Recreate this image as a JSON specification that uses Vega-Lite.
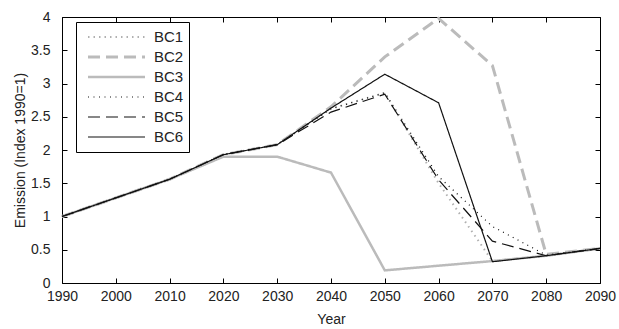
{
  "$schema": "https://vega.github.io/schema/vega-lite/v6.json",
  "autosize": "none",
  "width": 538,
  "height": 266,
  "padding": {"left": 62, "top": 17, "right": 19, "bottom": 46},
  "background": "white",
  "config": {
    "view": {"stroke": "black", "strokeWidth": 1},
    "font": "Liberation Sans",
    "axis": {
      "domain": false,
      "tickColor": "black",
      "tickSize": 5,
      "tickWidth": 1,
      "offset": -5,
      "grid": false,
      "labelFlush": false,
      "labelOverlap": false,
      "labelFont": "Liberation Sans",
      "labelFontSize": 14,
      "labelColor": "#222222",
      "titleFont": "Liberation Sans",
      "titleFontSize": 14,
      "titleFontWeight": "normal",
      "titleColor": "#222222"
    },
    "legend": {
      "labelFont": "Liberation Sans",
      "labelFontSize": 15,
      "labelColor": "#222222"
    }
  },
  "data": {
    "values": [
      {"series": "BC1", "year": 1990, "value": 1.0},
      {"series": "BC1", "year": 2000, "value": 1.28},
      {"series": "BC1", "year": 2010, "value": 1.56},
      {"series": "BC1", "year": 2020, "value": 1.93},
      {"series": "BC1", "year": 2030, "value": 2.08},
      {"series": "BC1", "year": 2040, "value": 2.62},
      {"series": "BC1", "year": 2050, "value": 2.86},
      {"series": "BC1", "year": 2060, "value": 1.5},
      {"series": "BC1", "year": 2070, "value": 0.33},
      {"series": "BC1", "year": 2080, "value": 0.41},
      {"series": "BC1", "year": 2090, "value": 0.52},
      {"series": "BC2", "year": 1990, "value": 1.0},
      {"series": "BC2", "year": 2000, "value": 1.28},
      {"series": "BC2", "year": 2010, "value": 1.56},
      {"series": "BC2", "year": 2020, "value": 1.93},
      {"series": "BC2", "year": 2030, "value": 2.08},
      {"series": "BC2", "year": 2040, "value": 2.65},
      {"series": "BC2", "year": 2050, "value": 3.4},
      {"series": "BC2", "year": 2060, "value": 3.98},
      {"series": "BC2", "year": 2070, "value": 3.27},
      {"series": "BC2", "year": 2080, "value": 0.43},
      {"series": "BC2", "year": 2090, "value": 0.52},
      {"series": "BC3", "year": 1990, "value": 1.0},
      {"series": "BC3", "year": 2000, "value": 1.28},
      {"series": "BC3", "year": 2010, "value": 1.56},
      {"series": "BC3", "year": 2020, "value": 1.9},
      {"series": "BC3", "year": 2030, "value": 1.9},
      {"series": "BC3", "year": 2040, "value": 1.66},
      {"series": "BC3", "year": 2050, "value": 0.19},
      {"series": "BC3", "year": 2060, "value": 0.26},
      {"series": "BC3", "year": 2070, "value": 0.33},
      {"series": "BC3", "year": 2080, "value": 0.41},
      {"series": "BC3", "year": 2090, "value": 0.52},
      {"series": "BC4", "year": 1990, "value": 1.0},
      {"series": "BC4", "year": 2000, "value": 1.28},
      {"series": "BC4", "year": 2010, "value": 1.56},
      {"series": "BC4", "year": 2020, "value": 1.93},
      {"series": "BC4", "year": 2030, "value": 2.08},
      {"series": "BC4", "year": 2040, "value": 2.62},
      {"series": "BC4", "year": 2050, "value": 2.86},
      {"series": "BC4", "year": 2060, "value": 1.6},
      {"series": "BC4", "year": 2070, "value": 0.85},
      {"series": "BC4", "year": 2080, "value": 0.42},
      {"series": "BC4", "year": 2090, "value": 0.52},
      {"series": "BC5", "year": 1990, "value": 1.0},
      {"series": "BC5", "year": 2000, "value": 1.28},
      {"series": "BC5", "year": 2010, "value": 1.56},
      {"series": "BC5", "year": 2020, "value": 1.93},
      {"series": "BC5", "year": 2030, "value": 2.08},
      {"series": "BC5", "year": 2040, "value": 2.57},
      {"series": "BC5", "year": 2050, "value": 2.84},
      {"series": "BC5", "year": 2060, "value": 1.55},
      {"series": "BC5", "year": 2070, "value": 0.63},
      {"series": "BC5", "year": 2080, "value": 0.41},
      {"series": "BC5", "year": 2090, "value": 0.52},
      {"series": "BC6", "year": 1990, "value": 1.0},
      {"series": "BC6", "year": 2000, "value": 1.28},
      {"series": "BC6", "year": 2010, "value": 1.56},
      {"series": "BC6", "year": 2020, "value": 1.93},
      {"series": "BC6", "year": 2030, "value": 2.08},
      {"series": "BC6", "year": 2040, "value": 2.63},
      {"series": "BC6", "year": 2050, "value": 3.14},
      {"series": "BC6", "year": 2060, "value": 2.71},
      {"series": "BC6", "year": 2070, "value": 0.32},
      {"series": "BC6", "year": 2080, "value": 0.41},
      {"series": "BC6", "year": 2090, "value": 0.52}
    ]
  },
  "layer": [
    {
      "mark": {"type": "line", "strokeCap": "butt", "strokeJoin": "miter"},
      "encoding": {
        "x": {
          "field": "year", "type": "quantitative",
          "scale": {"domain": [1990, 2090], "nice": false, "zero": false},
          "axis": {"orient": "bottom", "values": [1990, 2000, 2010, 2020, 2030, 2040, 2050, 2060, 2070, 2080, 2090], "format": "d", "title": "Year", "labelPadding": 6, "titlePadding": 9}
        },
        "y": {
          "field": "value", "type": "quantitative",
          "scale": {"domain": [0, 4], "nice": false},
          "axis": {"orient": "left", "values": [0, 0.5, 1, 1.5, 2, 2.5, 3, 3.5, 4], "format": "~g", "title": "Emission (Index 1990=1)", "labelPadding": 12, "titlePadding": 3}
        },
        "color": {
          "field": "series", "type": "nominal",
          "scale": {"domain": ["BC1", "BC2", "BC3", "BC4", "BC5", "BC6"], "range": ["#b0b0b0", "#bbbbbb", "#bbbbbb", "#111111", "#111111", "#111111"]},
          "legend": {
            "title": null, "orient": "none", "legendX": 14, "legendY": 5,
            "strokeColor": "black", "fillColor": "white", "padding": 5,
            "symbolType": "stroke", "symbolSize": 3250, "symbolOffset": 5,
            "labelOffset": 7, "clipHeight": 20, "rowPadding": 0
          }
        },
        "strokeDash": {
          "field": "series", "type": "nominal",
          "scale": {"domain": ["BC1", "BC2", "BC3", "BC4", "BC5", "BC6"], "range": [[1.5, 4], [12, 6], [1, 0], [1, 4.5], [12, 6], [1, 0]]},
          "legend": {"title": null}
        },
        "strokeWidth": {
          "field": "series", "type": "nominal",
          "scale": {"type": "ordinal", "domain": ["BC1", "BC2", "BC3", "BC4", "BC5", "BC6"], "range": [2, 3, 2.5, 1.2, 1.2, 1.2]},
          "legend": {"title": null}
        }
      }
    },
    {
      "mark": {"type": "line", "opacity": 0},
      "encoding": {
        "x": {
          "field": "year", "type": "quantitative",
          "axis": {"orient": "top", "values": [1990, 2000, 2010, 2020, 2030, 2040, 2050, 2060, 2070, 2080, 2090], "labels": false, "title": null}
        },
        "y": {
          "field": "value", "type": "quantitative",
          "axis": {"orient": "right", "values": [0, 0.5, 1, 1.5, 2, 2.5, 3, 3.5, 4], "labels": false, "title": null}
        },
        "detail": {"field": "series", "type": "nominal"}
      }
    }
  ],
  "resolve": {"axis": {"x": "independent", "y": "independent"}}
}
